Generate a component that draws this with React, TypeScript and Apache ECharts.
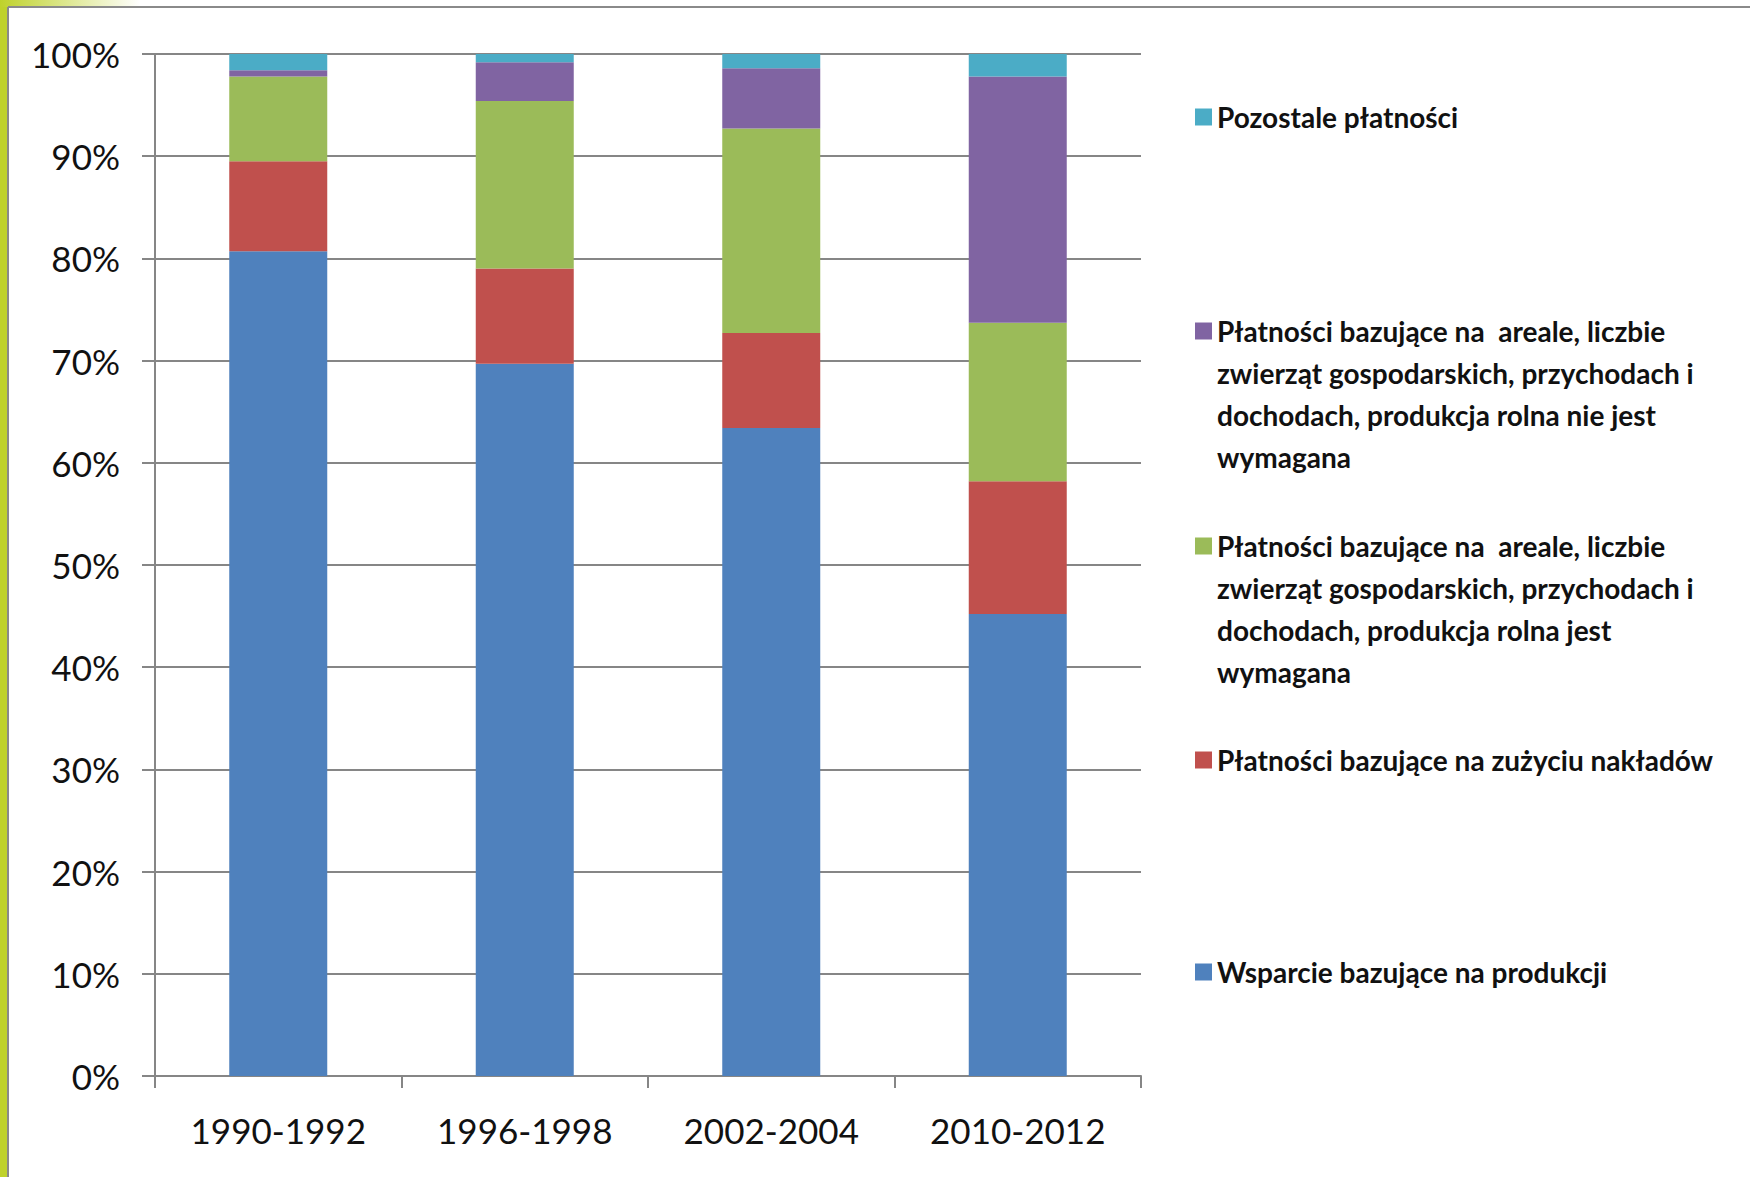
import React, { useEffect, useRef } from "react";
import * as echarts from "echarts";

const categories = ["1990-1992", "1996-1998", "2002-2004", "2010-2012"];
const wsparcieProdukcja = [80.7, 69.7, 63.4, 45.2];
const zuzycieNakladow = [8.8, 9.3, 9.3, 13.0];
const arealJestWymagana = [8.3, 16.4, 20.0, 15.5];
const arealNieJestWymagana = [0.6, 3.8, 5.9, 24.1];
const pozostale = [1.6, 0.8, 1.4, 2.2];
const yTicks = [0, 10, 20, 30, 40, 50, 60, 70, 80, 90, 100];

const seriesNames = [
  "Wsparcie bazujące na produkcji",
  "Płatności bazujące na zużyciu nakładów",
  "Płatności bazujące na  areale, liczbie zwierząt gospodarskich, przychodach i dochodach, produkcja rolna jest wymagana",
  "Płatności bazujące na  areale, liczbie zwierząt gospodarskich, przychodach i dochodach, produkcja rolna nie jest wymagana",
  "Pozostale płatności",
];
const legendLines: Record<string, string[]> = {
  [seriesNames[0]]: ["Wsparcie bazujące na produkcji"],
  [seriesNames[1]]: ["Płatności bazujące na zużyciu nakładów"],
  [seriesNames[2]]: [
    "Płatności bazujące na  areale, liczbie",
    "zwierząt gospodarskich, przychodach i",
    "dochodach, produkcja rolna jest",
    "wymagana",
  ],
  [seriesNames[3]]: [
    "Płatności bazujące na  areale, liczbie",
    "zwierząt gospodarskich, przychodach i",
    "dochodach, produkcja rolna nie jest",
    "wymagana",
  ],
  [seriesNames[4]]: ["Pozostale płatności"],
};
const seriesData = [wsparcieProdukcja, zuzycieNakladow, arealJestWymagana, arealNieJestWymagana, pozostale];
const colors = ["#4F81BD", "#C0504D", "#9BBB59", "#8064A2", "#4BACC6"];
const legendCenters = [972, 760, 546, 331, 117];

const FONT = "Lato, 'Open Sans', sans-serif";
const LH = 42;
const LEG_SIZE = 28;
const LEG_LEFT = 1195;
const TEXT_X = LEG_LEFT + 17 + 5;

export default function App() {
  const ref = useRef<HTMLDivElement>(null);
  useEffect(() => {
    document.body.style.margin = "0";
    const chart = echarts.init(ref.current!, null, { renderer: "svg" });
    const legends = seriesNames.map((name, i) => ({
      data: [name],
      left: LEG_LEFT,
      top: legendCenters[i] - LH / 2,
      orient: "vertical",
      padding: 0,
      icon: "rect",
      itemWidth: 17,
      itemHeight: 17,
      itemGap: 0,
      selectedMode: false,
      formatter: (nm: string) => legendLines[nm][0],
      textStyle: {
        fontFamily: FONT,
        fontSize: LEG_SIZE,
        fontWeight: "bold",
        color: "#111",
        lineHeight: LH,
      },
    }));
    const extraLines: any[] = [];
    seriesNames.forEach((name, i) => {
      legendLines[name].slice(1).forEach((line, k) => {
        extraLines.push({
          type: "text",
          x: TEXT_X,
          y: legendCenters[i] + (k + 1) * LH,
          style: {
            text: line,
            fontFamily: FONT,
            fontSize: LEG_SIZE,
            fontWeight: "bold",
            fill: "#111",
            verticalAlign: "middle",
          },
        });
      });
    });
    chart.setOption({
      animation: false,
      backgroundColor: "#ffffff",
      graphic: [
        { type: "rect", shape: { x: 0, y: 0, width: 7, height: 1177 }, style: { fill: "#BFD22B" } },
        {
          type: "rect",
          shape: { x: 0, y: 0, width: 140, height: 7 },
          style: {
            fill: new echarts.graphic.LinearGradient(0, 0, 1, 0, [
              { offset: 0, color: "#BFD22B" },
              { offset: 1, color: "#ffffff" },
            ]),
          },
        },
        { type: "line", shape: { x1: 8, y1: 7, x2: 1750, y2: 7 }, style: { stroke: "#8a8a8a", lineWidth: 2 } },
        { type: "line", shape: { x1: 8, y1: 7, x2: 8, y2: 1177 }, style: { stroke: "#8a8a8a", lineWidth: 2 } },
        ...extraLines,
      ],
      grid: { left: 155, right: 609, top: 54, bottom: 101, containLabel: false },
      legend: legends,
      xAxis: {
        type: "category",
        data: categories,
        axisLine: { lineStyle: { color: "#868686", width: 2 } },
        axisTick: { show: true, length: 12, lineStyle: { color: "#868686", width: 2 } },
        axisLabel: { fontFamily: FONT, fontSize: 35, color: "#111", margin: 36, interval: 0 },
      },
      yAxis: {
        type: "value",
        min: 0,
        max: 100,
        interval: 10,
        axisLine: { show: true, lineStyle: { color: "#868686", width: 2 } },
        axisTick: { show: true, length: 13, lineStyle: { color: "#868686", width: 2 } },
        splitLine: { lineStyle: { color: "#868686", width: 2 } },
        axisLabel: {
          fontFamily: FONT,
          fontSize: 35,
          color: "#111",
          margin: 35,
          formatter: (v: number) => (yTicks.includes(v) ? v + "%" : ""),
        },
      },
      series: seriesNames.map((name, i) => ({
        name,
        type: "bar",
        stack: "total",
        barWidth: 98,
        data: seriesData[i],
        itemStyle: { color: colors[i] },
      })),
    });
    return () => chart.dispose();
  }, []);
  return <div ref={ref} style={{ width: 1750, height: 1177 }} />;
}
